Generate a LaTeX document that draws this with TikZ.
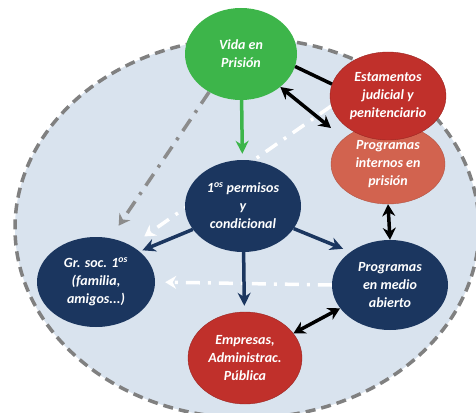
\documentclass[tikz,border=0pt]{standalone}
\usepackage{fontspec}
\setsansfont{Carlito}
\usepackage{tikz}
\usetikzlibrary{arrows.meta,shapes.geometric,backgrounds}
\definecolor{vpbg}{HTML}{D9E3EE}
\definecolor{vpdash}{HTML}{808080}
\definecolor{vpgreen}{HTML}{3DB54A}
\definecolor{vpred}{HTML}{C0302B}
\definecolor{vpsalmon}{HTML}{D2634F}
\definecolor{vpnavy}{HTML}{1B365F}
\definecolor{vpgray}{HTML}{8C8C8C}

\begin{document}
\begin{tikzpicture}[x=1pt,y=-1pt,
  bubble/.style={ellipse, inner sep=0pt, align=center, text=white,
               font=\sffamily\bfseries\itshape\fontsize{14}{18}\selectfont},
  arrow/.style={-{Stealth[length=13pt,width=13pt]}, line width=3.5pt, color=vpnavy},
  dblarrow/.style={{Stealth[length=12pt,width=13pt]}-{Stealth[length=12pt,width=13pt]},
               line width=3.5pt, color=black},
  flow/.style={-{Stealth[length=11pt,width=13pt]}, line width=3.5pt,
               dash pattern=on 14pt off 8pt on 3pt off 8pt}
]
  \useasboundingbox (0,0) rectangle (476,412);
  \begin{scope}[on background layer]
    \filldraw[fill=vpbg, draw=vpdash, line width=3.5pt, dash pattern=on 10pt off 6pt]
      (247,228) ellipse[x radius=232pt, y radius=190pt];
  \end{scope}

  \node[bubble, fill=vpgreen, minimum width=112pt, minimum height=92pt] (vida) at (241,54) {Vida en\\Prisión};
  \node[bubble, fill=vpsalmon, draw=vpsalmon!85!black, minimum width=114pt, minimum height=80pt] (internos) at (388,164) {Programas\\internos en\\prisión};
  \node[bubble, fill=vpred, draw=vpred!80!black, minimum width=116pt, minimum height=88pt] (estamentos) at (388,96) {Estamentos\\judicial y\\penitenciario};
  \node[bubble, fill=vpnavy, minimum width=116pt, minimum height=92pt] (permisos) at (243,206) {1\textsuperscript{os} permisos\\y\\condicional};
  \node[bubble, fill=vpnavy, minimum width=118pt, minimum height=90pt] (grsoc) at (96,282) {Gr. soc. 1\textsuperscript{os}\\(familia,\\amigos...)};
  \node[bubble, fill=vpnavy, minimum width=116pt, minimum height=90pt] (abierto) at (390,285) {Programas\\en medio\\abierto};
  \node[bubble, fill=vpred, draw=vpred!80!black, minimum width=114pt, minimum height=92pt] (empresas) at (245,358) {Empresas,\\Administrac.\\Pública};
  \coordinate (jct) at (331,128);

  % dash-dot flows pass behind the bubbles
  \begin{scope}[on background layer]
    \draw[flow, white, shorten >=16pt] (estamentos.190) -- (grsoc.46);
    \draw[flow, vpgray, shorten >=15pt] (vida.-130) -- (grsoc.72);
    \draw[flow, white, shorten >=10pt] (abierto.west) -- (grsoc.east);
  \end{scope}

  \draw[arrow, color=vpgreen, shorten >=6pt] (vida) -- (permisos);
  \draw[line width=3.5pt] (vida.-13) -- (estamentos.168);
  \draw[dblarrow] (vida.-40) -- (jct);
  \draw[arrow, shorten >=3pt] (permisos.205) -- (grsoc.35);
  \draw[arrow, shorten >=6pt] (permisos) -- (empresas);
  \draw[arrow, shorten >=8pt] (permisos.-24) -- (abierto.140);
  \draw[dblarrow] (internos.south) -- (abierto.north);
  \draw[dblarrow] (abierto.205) -- (empresas.27);
\end{tikzpicture}
\end{document}
